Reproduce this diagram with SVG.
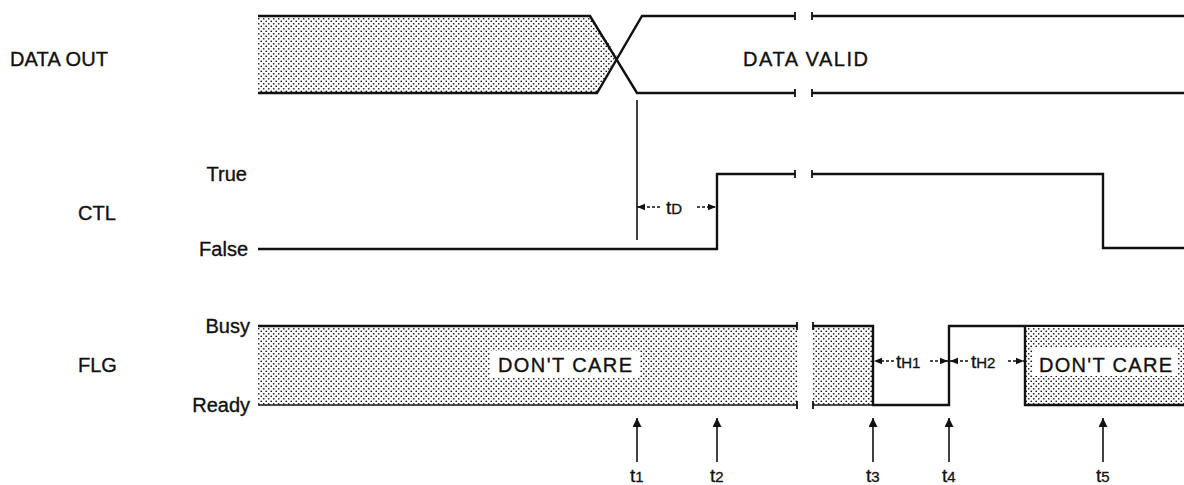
<svg xmlns="http://www.w3.org/2000/svg" width="1184" height="485" viewBox="0 0 1184 485">
<defs>
<pattern id="dots" width="5" height="5" patternUnits="userSpaceOnUse">
<rect width="5" height="5" fill="#fff"/>
<circle cx="1.25" cy="1.25" r="0.85" fill="#111"/>
<circle cx="3.75" cy="3.75" r="0.85" fill="#111"/>
</pattern>
<marker id="ah" viewBox="0 0 10 10" refX="10" refY="5" markerWidth="10" markerHeight="8" orient="auto-start-reverse" markerUnits="userSpaceOnUse">
<path d="M0,1 L10,5 L0,9 Z" fill="#111"/>
</marker>
<marker id="up" viewBox="0 0 10 10" refX="10" refY="5" markerWidth="15" markerHeight="9" orient="auto" markerUnits="userSpaceOnUse">
<path d="M0,0 L10,5 L0,10 Z" fill="#111"/>
</marker>
</defs>
<style>
.lbl{font-family:"Liberation Sans",Arial,sans-serif;font-size:20px;fill:#111;stroke:#111;stroke-width:0.35}
.sig{fill:none;stroke:#111;stroke-width:2.4;stroke-linejoin:miter}
.thin{fill:none;stroke:#111;stroke-width:1.6}
.tick{fill:none;stroke:#111;stroke-width:1.8}
.hatch{fill:url(#dots);stroke:none}
.dim{fill:none;stroke:#111;stroke-width:1.4;stroke-dasharray:3 2}
.tl{font-family:"Liberation Sans",Arial,sans-serif;font-size:19px;fill:#111;stroke:#111;stroke-width:0.3}
.sub{font-size:15px}
.box{fill:#fff;stroke:none}
</style>
<rect width="1184" height="485" fill="#fff"/>

<g id="labels">
<text class="lbl" x="10" y="66" textLength="98">DATA OUT</text>
<text class="lbl" x="247" y="181" text-anchor="end">True</text>
<text class="lbl" x="78" y="220">CTL</text>
<text class="lbl" x="248" y="256" text-anchor="end">False</text>
<text class="lbl" x="250" y="333" text-anchor="end">Busy</text>
<text class="lbl" x="78" y="372">FLG</text>
<text class="lbl" x="250" y="412" text-anchor="end">Ready</text>
</g>

<g id="data-out">
<path class="hatch" d="M258,16 L590,16 L617,55 L597,93 L258,93 Z"/>
<path class="sig" d="M258,16 L590,16 L637,93 L795,93"/>
<path class="sig" d="M258,93 L597,93 L642,16 L795,16"/>
<path class="sig" d="M812,16 L1184,16 M812,93 L1184,93"/>
<path class="tick" d="M795,12 v8 M795,89 v8 M812,12 v8 M812,89 v8"/>
<text class="lbl" x="743" y="66" textLength="125">DATA VALID</text>
</g>

<g id="ctl">
<path class="sig" d="M258,249 L717,249 L717,174 L795,174"/>
<path class="sig" d="M812,174 L1103,174 L1103,248 L1184,248"/>
<path class="tick" d="M795,170 v8 M812,170 v8"/>
</g>

<g id="flg">
<rect class="hatch" x="258" y="326" width="539" height="79"/>
<path class="sig" d="M258,326 L797,326"/>
<path class="thin" d="M258,405 L797,405"/>
<path class="tick" d="M797,322 v8 M797,401 v8"/>
<rect class="box" x="490" y="351" width="150" height="27"/>
<text class="lbl" x="498" y="372" textLength="134">DON'T CARE</text>

<rect class="hatch" x="813" y="326" width="60" height="79"/>
<path class="sig" d="M813,326 L873,326 L873,405 L949,405 L949,326 L1184,326"/>
<path class="thin" d="M813,405 L873,405"/>
<path class="tick" d="M813,322 v8 M813,401 v8"/>

<rect class="hatch" x="1025" y="327" width="159" height="78"/>
<path class="sig" d="M1025,326 L1025,405 L1184,405"/>
<rect class="box" x="1033" y="348" width="144" height="28"/>
<text class="lbl" x="1039" y="372" textLength="133">DON'T CARE</text>
</g>

<g id="connectors">
<line class="thin" x1="637" y1="100" x2="637" y2="240"/>
<line class="dim" x1="660" y1="207" x2="637" y2="207" marker-end="url(#ah)"/>
<line class="dim" x1="697" y1="207" x2="716" y2="207" marker-end="url(#ah)"/>
<line class="dim" x1="894" y1="361" x2="874" y2="361" marker-end="url(#ah)"/>
<line class="dim" x1="930" y1="361" x2="948" y2="361" marker-end="url(#ah)"/>
<line class="dim" x1="968" y1="361" x2="950" y2="361" marker-end="url(#ah)"/>
<line class="dim" x1="1008" y1="361" x2="1024" y2="361" marker-end="url(#ah)"/>

<line class="thin" x1="637" y1="462" x2="637" y2="418" marker-end="url(#up)"/>
<line class="thin" x1="717" y1="462" x2="717" y2="418" marker-end="url(#up)"/>
<line class="thin" x1="873" y1="462" x2="873" y2="418" marker-end="url(#up)"/>
<line class="thin" x1="949" y1="462" x2="949" y2="418" marker-end="url(#up)"/>
<line class="thin" x1="1103" y1="462" x2="1103" y2="418" marker-end="url(#up)"/>
</g>

<g id="dim-labels">
<text class="tl" x="666" y="214">t<tspan class="sub">D</tspan></text>
<text class="tl" x="896" y="368">t<tspan class="sub">H1</tspan></text>
<text class="tl" x="971" y="368">t<tspan class="sub">H2</tspan></text>
<text class="tl" x="630" y="482">t<tspan class="sub">1</tspan></text>
<text class="tl" x="710" y="482">t<tspan class="sub">2</tspan></text>
<text class="tl" x="866" y="482">t<tspan class="sub">3</tspan></text>
<text class="tl" x="942" y="482">t<tspan class="sub">4</tspan></text>
<text class="tl" x="1096" y="482">t<tspan class="sub">5</tspan></text>
</g>
</svg>
